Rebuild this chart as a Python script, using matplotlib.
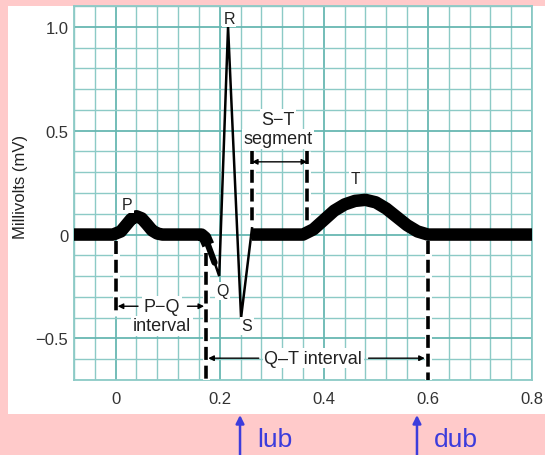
import matplotlib
matplotlib.use("Agg")
from matplotlib import pyplot as plt
from matplotlib.patches import Rectangle
import numpy as np

plt.rcParams["font.family"] = ["Liberation Sans", "DejaVu Sans"]

# ECG trace (time in s, voltage in mV)
pwave_t = [-0.08, -0.005, 0.01, 0.02, 0.03, 0.04, 0.05, 0.06, 0.07, 0.08, 0.09, 0.165, 0.172, 0.178]
pwave_mv = [0, 0, 0.015, 0.045, 0.075, 0.088, 0.078, 0.05, 0.02, 0.005, 0, 0, -0.015, -0.05]
taper_t = [0.176, 0.19]
taper_mv = [-0.04, -0.135]
qrs_t = [0.18, 0.199, 0.216, 0.241, 0.262]
qrs_mv = [-0.06, -0.20, 1.0, -0.40, 0.03]
twave_t = [0.262, 0.36, 0.38, 0.40, 0.42, 0.44, 0.46, 0.48, 0.50, 0.52, 0.54, 0.56, 0.58, 0.60, 0.80]
twave_mv = [0, 0, 0.025, 0.07, 0.115, 0.145, 0.162, 0.167, 0.155, 0.125, 0.085, 0.045, 0.015, 0, 0]

# wave letters
wave_names = ["P", "Q", "R", "S", "T"]
wave_t = [0.022, 0.206, 0.218, 0.252, 0.46]
wave_mv = [0.145, -0.27, 1.04, -0.44, 0.27]

# interval boundaries
pq_start, pq_end = 0.0, 0.174
st_start, st_end = 0.262, 0.368
qt_start, qt_end = 0.174, 0.60
lub_t, dub_t = 0.239, 0.579

xticks = [0, 0.2, 0.4, 0.6, 0.8]
yticks = [-0.5, 0, 0.5, 1.0]

pink = "#ffcaca"
teal = "#8ccac6"
teal_dark = "#68b7b2"
blue = "#3c3cdc"

fig = plt.figure(figsize=(5.45, 4.56), dpi=100)
fig.patch.set_facecolor(pink)
fig.patches.append(Rectangle((8 / 545, 41 / 456), 1, 408 / 456, transform=fig.transFigure,
                             facecolor="white", edgecolor="none", zorder=-10))

ax = fig.add_axes([74 / 545, 75 / 456, 458 / 545, 374 / 456])
ax.set_xlim(-0.08, 0.8)
ax.set_ylim(-0.7, 1.1)

# ECG paper grid
for gx in np.arange(-0.08, 0.801, 0.04):
    major = abs(gx / 0.2 - round(gx / 0.2)) < 1e-6
    ax.axvline(gx, color=teal_dark if major else teal, lw=1.3 if major else 1.0, zorder=1)
for gy in np.arange(-0.7, 1.101, 0.1):
    major = abs(gy / 0.5 - round(gy / 0.5)) < 1e-6
    ax.axhline(gy, color=teal_dark if major else teal, lw=1.3 if major else 1.0, zorder=1)
for s in ax.spines.values():
    s.set_color(teal)
    s.set_linewidth(1.3)

ax.set_xticks(xticks)
ax.set_xticklabels(["0", "0.2", "0.4", "0.6", "0.8"])
ax.set_yticks(yticks)
ax.set_yticklabels(["\u22120.5", "0", "0.5", "1.0"])
ax.tick_params(length=0, labelsize=12, labelcolor="#333333")
ax.tick_params(axis="x", pad=8)
ax.tick_params(axis="y", pad=4)
ax.set_ylabel("Millivolts (mV)", fontsize=12, color="#222222")
ax.yaxis.set_label_coords(-0.1, 0.52)

# dashed interval markers (white halo under black dashes)
def dashed(x, y0, y1):
    ax.plot([x, x], [y0, y1], color="white", lw=5, zorder=3, solid_capstyle="butt")
    ax.plot([x, x], [y0, y1], color="black", lw=2.6, zorder=4,
            linestyle=(0, (3.6, 1.6)), dash_capstyle="butt")

dashed(pq_start, -0.03, -0.39)
dashed(pq_end, -0.09, -0.7)
dashed(st_start, 0.40, 0.04)
dashed(st_end, 0.40, 0.04)
dashed(qt_end, -0.03, -0.7)

# trace
ax.plot(pwave_t, pwave_mv, color="black", lw=9, solid_joinstyle="round",
        solid_capstyle="butt", zorder=5)
ax.plot(taper_t, taper_mv, color="black", lw=4.5, solid_capstyle="round", zorder=5)
ax.plot(qrs_t, qrs_mv, color="black", lw=1.8, solid_joinstyle="miter", zorder=5)
ax.plot(twave_t, twave_mv, color="black", lw=9, solid_joinstyle="round",
        solid_capstyle="butt", zorder=5)

box = dict(facecolor="white", edgecolor="none", pad=1.0)
for name, t, mv in zip(wave_names, wave_t, wave_mv):
    ax.text(t, mv, name, fontsize=11.5, ha="center", va="center", color="#222222",
            bbox=box, zorder=6)

arrow = dict(arrowstyle="-|>", color="black", lw=1.0, mutation_scale=8,
             shrinkA=0, shrinkB=0)
label_size = 13

# S-T segment
ax.annotate("", xy=(st_start, 0.35), xytext=(st_end, 0.35),
            arrowprops=dict(arrow, arrowstyle="<|-|>"), zorder=6)
ax.text((st_start + st_end) / 2 - 0.003, 0.555, "S\u2212T", fontsize=label_size, ha="center",
        va="center", color="#222222", bbox=box, zorder=6)
ax.text((st_start + st_end) / 2 - 0.003, 0.46, "segment", fontsize=label_size, ha="center",
        va="center", color="#222222", bbox=box, zorder=6)

# P-Q interval
ax.annotate("", xy=(pq_start + 0.004, -0.345), xytext=(0.043, -0.345),
            arrowprops=arrow, zorder=6)
ax.annotate("", xy=(pq_end - 0.004, -0.345), xytext=(0.138, -0.345),
            arrowprops=arrow, zorder=6)
ax.text(0.089, -0.345, "P\u2212Q", fontsize=label_size, ha="center", va="center",
        color="#222222", bbox=box, zorder=6)
ax.text(0.089, -0.44, "interval", fontsize=label_size, ha="center", va="center",
        color="#222222", bbox=box, zorder=6)

# Q-T interval
ax.annotate("", xy=(qt_start + 0.004, -0.595), xytext=(0.275, -0.595),
            arrowprops=arrow, zorder=6)
ax.annotate("", xy=(qt_end - 0.006, -0.595), xytext=(0.486, -0.595),
            arrowprops=arrow, zorder=6)
ax.text(0.38, -0.595, "Q\u2013T interval", fontsize=label_size, ha="center", va="center",
        color="#222222", bbox=box, zorder=6)

# heart sounds under the chart
for t, word in [(lub_t, "lub"), (dub_t, "dub")]:
    ax.annotate("", xy=(t, 40 / 456), xycoords=("data", "figure fraction"),
                xytext=(t, 0.0), textcoords=("data", "figure fraction"),
                arrowprops=dict(arrowstyle="-|>", color=blue, lw=1.8,
                                mutation_scale=12, shrinkA=0, shrinkB=0),
                annotation_clip=False)
    ax.annotate(word, xy=(t + 0.033, 16 / 456), xycoords=("data", "figure fraction"),
                fontsize=19, color=blue, ha="left", va="center", annotation_clip=False)

fig.savefig("out.png", dpi=100, facecolor=fig.get_facecolor())
